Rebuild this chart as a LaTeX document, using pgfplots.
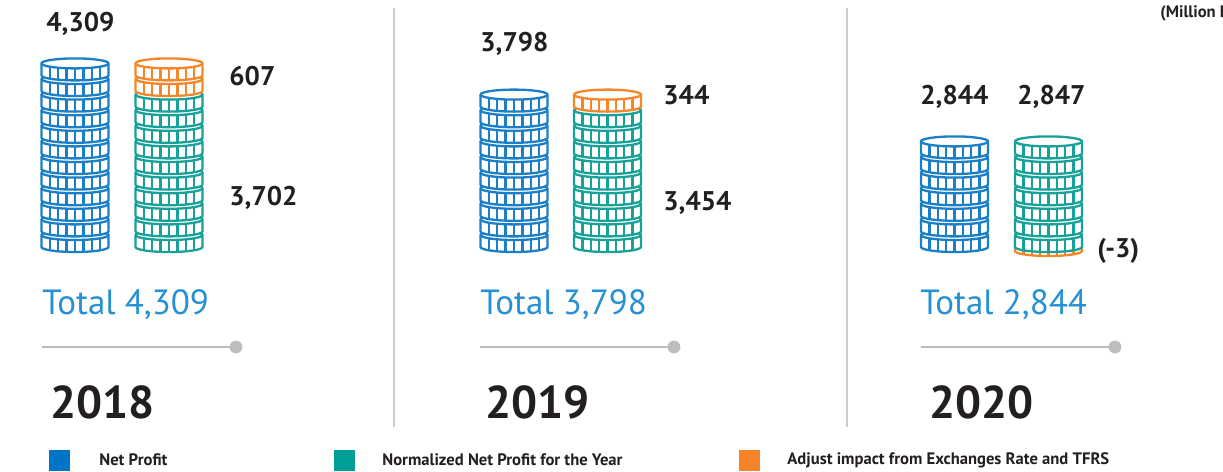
\documentclass[border=0pt]{standalone}
\usepackage{fontspec}
\setmainfont{PT Sans}
\usepackage{pgfplots}
\pgfplotsset{compat=1.18}

\definecolor{coinblue}{HTML}{1B7FC7}
\definecolor{cointeal}{HTML}{17A198}
\definecolor{coinorange}{HTML}{F5862A}
\definecolor{legblue}{HTML}{0075C6}
\definecolor{legteal}{HTML}{009E98}
\definecolor{legorange}{HTML}{F5832A}
\definecolor{totalblue}{HTML}{2590D4}
\definecolor{txt}{HTML}{231F20}
\definecolor{sep}{HTML}{CCCCCC}
\definecolor{dotgray}{HTML}{BDBDBF}

% one coin: top ellipse centre at the point, body hangs below
\pgfdeclareplotmark{coin}{%
  \pgfsetfillcolor{white}%
  \pgfpathmoveto{\pgfpoint{-16.75pt}{0pt}}%
  \pgfpatharc{180}{0}{16.75pt and 2.5pt}%
  \pgfpathlineto{\pgfpoint{16.75pt}{-6pt}}%
  \pgfpatharc{0}{-180}{16.75pt and 2.5pt}%
  \pgfpathclose
  \pgfusepathqfillstroke
  \pgfpathmoveto{\pgfpoint{16.75pt}{0pt}}%
  \pgfpatharc{0}{-180}{16.75pt and 2.5pt}%
  \pgfusepathqstroke
  \foreach \x/\y in {-12.56/1.654,-8.375/2.165,-4.19/2.42,0/2.5,4.19/2.42,8.375/2.165,12.56/1.654}{%
    \pgfpathmoveto{\pgfpoint{\x pt}{-\y pt}}%
    \pgfpathlineto{\pgfpoint{\x pt}{-\y pt-6pt}}%
    \pgfusepathqstroke
  }%
}

\newcommand\numfont{\bfseries\fontsize{13.5}{16}\selectfont}
\newcommand\totfont{\fontsize{17.5}{20}\selectfont}
\newcommand\yearfont{\bfseries\fontsize{23}{26}\selectfont}
\newcommand\legfont{\bfseries\fontsize{8.3}{10}\selectfont}

\begin{document}
\begin{tikzpicture}
\begin{axis}[
    width=611.5pt, height=236pt, scale only axis,
    hide axis, clip=false,
    xmin=0, xmax=1223, ymin=0, ymax=472,
    y dir=reverse,
    coins/.style={only marks, mark=coin, line width=1.15pt},
]

% separators
\addplot[sep, line width=0.8pt] coordinates {(394,8) (394,427)};
\addplot[sep, line width=0.8pt] coordinates {(847,8) (847,427)};

% 2018
\addplot[coins, coinblue] coordinates {
    (75,235) (75,219.4) (75,203.8) (75,188.2) (75,172.6) (75,157)
    (75,141.4) (75,125.8) (75,110.2) (75,94.6) (75,79) (75,63.4)
};
\addplot[coins, cointeal] coordinates {
    (169,235) (169,219.4) (169,203.8) (169,188.2) (169,172.6) (169,157)
    (169,141.4) (169,125.8) (169,110.2) (169,94.6)
};
\addplot[coins, coinorange] coordinates {(169,79) (169,63.4)};

% 2019
\addplot[coins, coinblue] coordinates {
    (514,235) (514,219.4) (514,203.8) (514,188.2) (514,172.6) (514,157)
    (514,141.4) (514,125.8) (514,110.2) (514,94.6)
};
\addplot[coins, cointeal] coordinates {
    (607.5,235) (607.5,219.4) (607.5,203.8) (607.5,188.2) (607.5,172.6)
    (607.5,157) (607.5,141.4) (607.5,125.8) (607.5,110.2)
};
\addplot[coins, coinorange] coordinates {(607.5,94.6)};

% 2020
\addplot[coins, coinblue] coordinates {
    (954.5,235) (954.5,219.4) (954.5,203.8) (954.5,188.2) (954.5,172.6)
    (954.5,157) (954.5,141.4)
};
\addplot[coins, coinorange] coordinates {(1048.5,239)};
\addplot[coins, cointeal] coordinates {
    (1048.5,235) (1048.5,219.4) (1048.5,203.8) (1048.5,188.2) (1048.5,172.6)
    (1048.5,157) (1048.5,141.4)
};

% total rules with end dot
\addplot[dotgray, line width=1.1pt] coordinates {(42,347) (236,347)};
\addplot[dotgray, line width=1.1pt] coordinates {(480,347) (674,347)};
\addplot[dotgray, line width=1.1pt] coordinates {(921,347) (1115,347)};
\addplot[only marks, mark=*, mark size=3pt, dotgray] coordinates {(236,347) (674,347) (1115,347)};

% legend squares
\addplot[only marks, mark=square*, mark size=5pt, legblue] coordinates {(59,460)};
\addplot[only marks, mark=square*, mark size=5pt, legteal] coordinates {(344,460)};
\addplot[only marks, mark=square*, mark size=5pt, legorange] coordinates {(749,460)};

\begin{scope}[every node/.style={inner sep=0pt, anchor=west, text=txt}]
\node[font=\numfont] at (axis cs:46,24) {4,309};
\node[font=\numfont] at (axis cs:229,76) {607};
\node[font=\numfont] at (axis cs:229,198) {3,702};
\node[font=\numfont] at (axis cs:480,44) {3,798};
\node[font=\numfont] at (axis cs:663,95) {344};
\node[font=\numfont] at (axis cs:663,203) {3,454};
\node[font=\numfont] at (axis cs:920,97) {2,844};
\node[font=\numfont] at (axis cs:1017,97) {2,847};
\node[font=\numfont] at (axis cs:1097,251) {(-3)};

\node[font=\totfont, text=totalblue] at (axis cs:42,305) {Total 4,309};
\node[font=\totfont, text=totalblue] at (axis cs:480,305) {Total 3,798};
\node[font=\totfont, text=totalblue] at (axis cs:920,305) {Total 2,844};

\node[font=\yearfont] at (axis cs:50,402) {2018};
\node[font=\yearfont] at (axis cs:485,402) {2019};
\node[font=\yearfont] at (axis cs:929,402) {2020};

\node[font=\legfont] at (axis cs:99,460) {Net Profit};
\node[font=\legfont] at (axis cs:382,460) {Normalized Net Profit for the Year};
\node[font=\legfont] at (axis cs:787,460) {Adjust impact from Exchanges Rate and TFRS};
\node[font=\legfont] at (axis cs:1160,13) {(Million Baht)};
\end{scope}

\end{axis}
\pgfresetboundingbox
\path[use as bounding box] (current axis.south west) rectangle (current axis.north east);
\end{tikzpicture}
\end{document}
